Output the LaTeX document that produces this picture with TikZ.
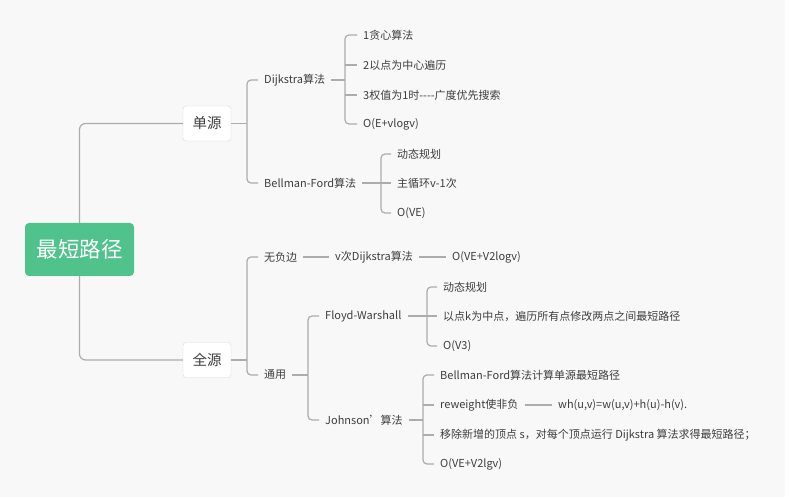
\documentclass[tikz,border=0pt]{standalone}
\usepackage{fontspec}
\setmainfont{Noto Sans CJK SC}
\usetikzlibrary{positioning,calc}
\definecolor{rootgreen}{RGB}{80,194,139}
\definecolor{linegray}{RGB}{172,172,172}
\definecolor{textgray}{RGB}{62,62,62}
\definecolor{paper}{RGB}{248,248,248}
\definecolor{boxline}{RGB}{216,216,216}

\begin{document}
\begin{tikzpicture}[
        x=1pt, y=-1pt,
        leaf/.style={anchor=west, inner xsep=6pt, inner ysep=2pt, text=textgray,
            font=\fontsize{11}{13}\selectfont},
        topic/.style={rectangle, rounded corners=3pt, draw=boxline, fill=white, text=textgray,
            minimum width=48pt, minimum height=35pt, inner sep=0pt, font=\fontsize{14.5}{17}\selectfont},
        root/.style={rectangle, rounded corners=4pt, fill=rootgreen, text=white,
            minimum width=109pt, minimum height=53pt, inner sep=0pt, font=\fontsize{21.5}{25}\selectfont},
        link/.style={draw=linegray, line width=1.2pt, rounded corners=4pt},
    ]
        \fill[white] (0,0) rectangle (790,502);
        \fill[paper] (0,0) rectangle (785,497);
        \useasboundingbox (0,0) rectangle (790,502);

        \node[root] (root) at (79.5,249.5) {最短路径};
        \node[topic] (dan) at (207,123.5) {单源};
        \node[topic] (quan) at (207,360) {全源};
        \draw[link, rounded corners=6pt] (root.north) |- (dan.west);
        \draw[link, rounded corners=6pt] (root.south) |- (quan.west);

        \node[leaf] (dij) at (258,80) {Dijkstra算法};
        \node[leaf] (bf) at (258,183) {Bellman-Ford算法};
        \coordinate (danb) at (247,123.5);
        \draw[link] (dan.east) -- (danb);
        \draw[link] (dij.west) -| (danb) |- (bf.west);

        \node[leaf] (d1) at (357,35) {1贪心算法};
        \node[leaf] (d2) at (357,65) {2以点为中心遍历};
        \node[leaf] (d3) at (357,95) {3权值为1时-{}-{}-{}-广度优先搜索};
        \node[leaf] (d4) at (357,124) {O(E+vlogv)};
        \coordinate (dijb) at (345,80);
        \draw[link] (dij.east) -- (dijb);
        \draw[link] (d1.west) -| (dijb) |- (d4.west);
        \draw[link] (dijb |- d2.west) -- (d2.west);
        \draw[link] (dijb |- d3.west) -- (d3.west);

        \node[leaf] (b1) at (391,154) {动态规划};
        \node[leaf] (b2) at (391,183) {主循环v-1次};
        \node[leaf] (b3) at (391,213) {O(VE)};
        \coordinate (bfb) at (381,183);
        \draw[link] (bf.east) -- (bfb);
        \draw[link] (b1.west) -| (bfb) |- (b3.west);
        \draw[link] (bfb) -- (b2.west);

        \node[leaf] (wfb) at (258,257) {无负边};
        \node[leaf] (ty) at (258,375) {通用};
        \coordinate (quanb) at (247,360);
        \draw[link] (quan.east) -- (quanb);
        \draw[link] (wfb.west) -| (quanb) |- (ty.west);

        \node[leaf] (vci) at (329,257) {v次Dijkstra算法};
        \node[leaf] (ove) at (446,257) {O(VE+V2logv)};
        \draw[link] (wfb.east) -- (vci.west);
        \draw[link] (vci.east) -- (ove.west);

        \node[leaf] (floyd) at (319,316) {Floyd-Warshall};
        \node[leaf] (john) at (319,420) {Johnson’算法};
        \coordinate (tyb) at (308,375);
        \draw[link] (ty.east) -- (tyb);
        \draw[link] (floyd.west) -| (tyb) |- (john.west);

        \node[leaf] (f1) at (437,287) {动态规划};
        \node[leaf] (f2) at (437,316) {以点k为中点，遍历所有点修改两点之间最短路径};
        \node[leaf] (f3) at (437,346) {O(V3)};
        \coordinate (floydb) at (427,316);
        \draw[link] (floyd.east) -- (floydb);
        \draw[link] (f1.west) -| (floydb) |- (f3.west);
        \draw[link] (floydb) -- (f2.west);

        \node[leaf] (j1) at (434,375) {Bellman-Ford算法计算单源最短路径};
        \node[leaf] (j2) at (434,405) {reweight使非负};
        \node[leaf] (j3) at (434,435) {移除新增的顶点 s，对每个顶点运行 Dijkstra 算法求得最短路径；};
        \node[leaf] (j4) at (434,464) {O(VE+V2lgv)};
        \coordinate (johnb) at (423,420);
        \draw[link] (john.east) -- (johnb);
        \draw[link] (j1.west) -| (johnb) |- (j4.west);
        \draw[link] (johnb |- j2.west) -- (j2.west);
        \draw[link] (johnb |- j3.west) -- (j3.west);

        \node[leaf] (wh) at (552,405) {wh(u,v)=w(u,v)+h(u)-h(v).};
        \draw[link] (j2.east) -- (wh.west);
    \end{tikzpicture}
\end{document}
